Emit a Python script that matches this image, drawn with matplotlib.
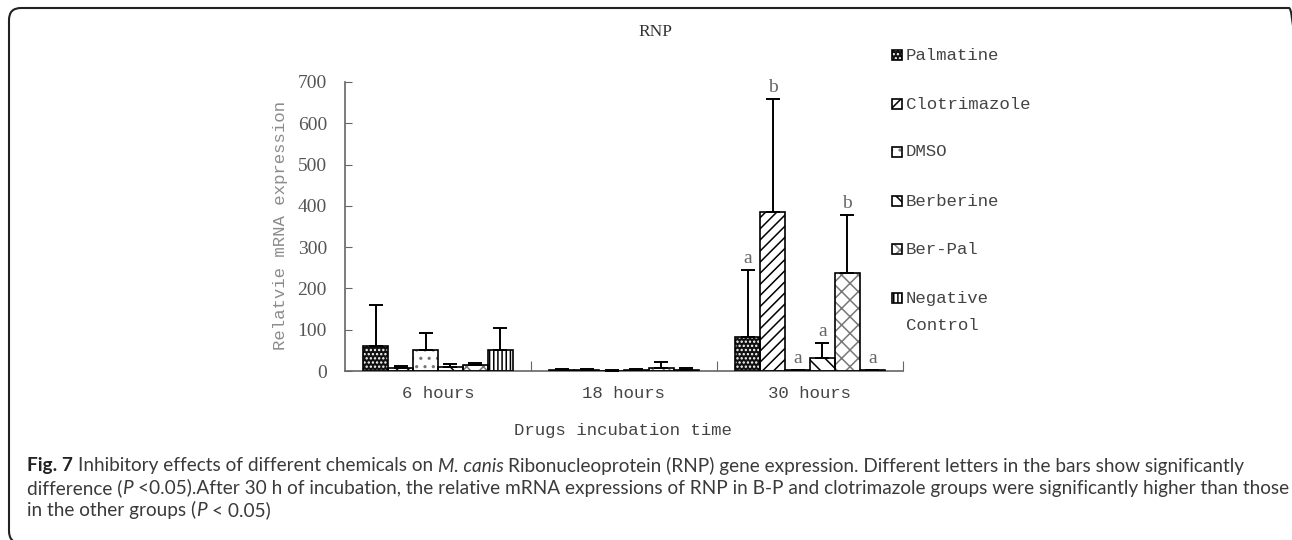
import numpy as np
import matplotlib.pyplot as plt
from matplotlib.patches import FancyBboxPatch, Rectangle
from matplotlib.transforms import IdentityTransform

# data
categories = ['6 hours', '18 hours', '30 hours']
series = ['Palmatine', 'Clotrimazole', 'DMSO', 'Berberine', 'Ber-Pal', 'Negative\nControl']

palmatine = [61, 2, 82]
palmatine_top = [160, 5, 244]
clotrimazole = [7, 2, 385]
clotrimazole_top = [12, 5, 658]
dmso = [51, 1, 2]
dmso_top = [92, 2, 2]
berberine = [10, 2, 31]
berberine_top = [17, 4, 68]
berpal = [14, 7, 237]
berpal_top = [20, 21, 378]
negctrl = [51, 2, 2]
negctrl_top = [104, 7, 2]

letters_30h = ['a', 'b', 'a', 'a', 'b', 'a']

means = [palmatine, clotrimazole, dmso, berberine, berpal, negctrl]
tops = [palmatine_top, clotrimazole_top, dmso_top, berberine_top, berpal_top, negctrl_top]

# (fill, hatch, hatch colour)
styles = [
    ('#111111', '....', 'white'),
    ('white', '///', 'black'),
    ('white', '..', '#777777'),
    ('white', '\\\\', 'black'),
    ('white', 'xx', '#777777'),
    ('white', '||||', 'black'),
]

W, H = 1292, 540
plt.rcParams['hatch.linewidth'] = 1.1
fig = plt.figure(figsize=(W / 100, H / 100), dpi=100)

mono = 'Liberation Mono'
serif = 'Liberation Serif'

# rounded frame (top and left edges visible, the rest runs off the canvas)
frame = FancyBboxPatch((9, -3), 1292, 535, boxstyle='round,pad=0,rounding_size=12',
                       transform=IdentityTransform(), fill=False, edgecolor='#222222',
                       linewidth=1.5)
fig.add_artist(frame)

ax = fig.add_axes([345 / W, 1 - 371 / H, (903 - 345) / W, (371 - 82) / H])

w = 0.134
idx = np.arange(len(categories))
for k in range(len(series)):
    x = idx + (k - 2.5) * w
    vals = np.array(means[k])
    up = np.array(tops[k]) - vals
    fc, hatch, hc = styles[k]
    ax.bar(x, vals, width=w, color=fc, hatch=hatch, edgecolor=hc, linewidth=0, zorder=2)
    ax.bar(x, vals, width=w, fill=False, edgecolor='black', linewidth=1.2, zorder=3)
    ax.errorbar(x, vals, yerr=[np.zeros(len(vals)), up], fmt='none', ecolor='black',
                elinewidth=1.4, capsize=5, capthick=1.4, zorder=4)
    ax.annotate(letters_30h[k], (x[2], tops[k][2]), xytext=(0, 5), textcoords='offset points',
                ha='center', va='baseline', fontsize=14, family=serif, color='#666666')

ax.set_xlim(-0.5, 2.5)
ax.set_ylim(0, 700)
ax.set_yticks(np.arange(0, 701, 100))
ax.set_xticks([0.5, 1.5, 2.5])
ax.set_xticklabels([])
ax.set_xticks(idx, minor=True)
ax.set_xticklabels(categories, minor=True, family=mono, fontsize=12.5, color='#444444')
ax.tick_params(axis='x', which='major', direction='in', length=7, color='#666666')
ax.tick_params(axis='x', which='minor', length=0, pad=11)
ax.tick_params(axis='y', direction='in', length=5, color='#666666', pad=13)
for lab in ax.get_yticklabels():
    lab.set_family(serif)
    lab.set_fontsize(14)
    lab.set_color('#555555')
for s in ['top', 'right']:
    ax.spines[s].set_visible(False)
for s in ['left', 'bottom']:
    ax.spines[s].set_color('#666666')
    ax.spines[s].set_linewidth(1.2)


def px(x, y):
    return x / W, 1 - y / H


fig.text(*px(655, 32), 'RNP', family=serif, fontsize=12.5, color='#333333', ha='center', va='center')
fig.text(*px(281, 226), 'Relatvie mRNA expression', family=mono, fontsize=12.5, color='#8c8c8c',
         rotation=90, ha='center', va='center')
fig.text(*px(623, 430), 'Drugs incubation time', family=mono, fontsize=12.5, color='#444444',
         ha='center', va='center')

# legend, drawn by hand on the right
row_y = [55, 104, 152, 201, 249, 298]
for k, name in enumerate(series):
    fc, hatch, hc = styles[k]
    y0 = H - row_y[k] - 5
    fig.add_artist(Rectangle((892, y0), 10, 10, transform=IdentityTransform(), facecolor=fc,
                             hatch=hatch, edgecolor=hc, linewidth=0))
    fig.add_artist(Rectangle((892, y0), 10, 10, transform=IdentityTransform(), fill=False,
                             edgecolor='black', linewidth=1.2))
    for j, line in enumerate(name.split('\n')):
        fig.text(*px(906, row_y[k] + 27 * j), line, family=mono, fontsize=12.5, color='#444444',
                 ha='left', va='center')

# caption with mixed styles, sized so the first line spans the reference width
cap_font = ['Lato', 'DejaVu Sans']
cap_color = '#3a3a3a'
renderer = fig.canvas.get_renderer()

lines = [
    [('Fig. 7', 'bold'), (' Inhibitory effects of different chemicals on ', 'normal'), ('M. canis', 'italic'),
     (' Ribonucleoprotein (RNP) gene expression. Different letters in the bars show significantly', 'normal')],
    [('difference (', 'normal'), ('P', 'italic'),
     (' <0.05).After 30 h of incubation, the relative mRNA expressions of RNP in B-P and clotrimazole groups were significantly higher than those', 'normal')],
    [('in the other groups (', 'normal'), ('P', 'italic'), (' < 0.05)', 'normal')],
]
line_y = [466, 488, 510]


def style_kw(st, size):
    kw = dict(fontsize=size, family=cap_font, color=cap_color, ha='left', va='center')
    if st == 'bold':
        kw['fontweight'] = 'bold'
        kw['color'] = '#222222'
    if st == 'italic':
        kw['fontstyle'] = 'italic'
    return kw


def text_width(s, st, size):
    t = fig.text(0, 0, s, **style_kw(st, size))
    wd = t.get_window_extent(renderer).width
    t.remove()
    return wd


def draw_line(runs, x, y, size, draw=True):
    space = text_width('a a', 'normal', size) - text_width('aa', 'normal', size)
    for s, st in runs:
        lead = len(s) - len(s.lstrip(' '))
        trail = len(s) - len(s.rstrip(' '))
        x += lead * space
        core = s.strip(' ')
        if draw:
            fig.text(*px(x, y), core, **style_kw(st, size))
        x += text_width(core, st, size) + trail * space
    return x


base = 13.0
full = draw_line(lines[0], 0, 0, base, draw=False)
cap_size = base * 1218 / full
for runs, yy in zip(lines, line_y):
    draw_line(runs, 27, yy, cap_size)

fig.savefig('out.png', dpi=100)
